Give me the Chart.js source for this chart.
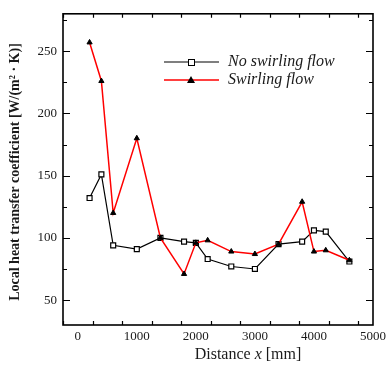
<!DOCTYPE html>
<html>
<head>
<meta charset="utf-8">
<script src="https://cdn.jsdelivr.net/npm/chart.js@4/dist/chart.umd.min.js"></script>
<style>
  html, body { margin: 0; padding: 0; background: #fff; }
  #wrap { width: 390px; height: 368px; }
</style>
</head>
<body>
<div id="wrap"><canvas id="chart"></canvas></div>
<script>
// distance along the pipe [mm]
const distance = [200, 400, 600, 1000, 1400, 1800, 2000, 2200, 2600, 3000, 3400, 3800, 4000, 4200, 4600]
const noSwirl = [132, 151, 94, 91, 100, 97, 96, 83, 77, 75, 95, 97, 106, 105, 81]
const swirl = [257, 226, 120, 180, 100, 71, 96, 98, 89, 87, 95, 129, 89, 90, 82]

const xTickValues = [0, 1000, 2000, 3000, 4000, 5000]
const yTickValues = [50, 100, 150, 200, 250]
const xMinorStep = 500
const yMinorStep = 25

const serif = '"Liberation Serif", "DejaVu Serif", serif'

function toPoints(xs, ys) {
    return xs.map((x, i) => ({ x: x, y: ys[i] }))
}

// frame, inward ticks, legend and axis titles
const decorations = {
    id: 'decorations',
    afterDraw(chart) {
        const { ctx, chartArea, scales } = chart
        const { left, right, top, bottom } = chartArea
        const xs = scales.x, ys = scales.y
        ctx.save()
        ctx.strokeStyle = '#000'
        ctx.lineWidth = 1.2

        // ticks
        ctx.beginPath()
        for (let v = xs.min; v <= xs.max + 1; v += xMinorStep) {
            const px = Math.round(xs.getPixelForValue(v)) + 0.5
            const len = (v % 1000 === 0) ? 6 : 4
            ctx.moveTo(px, bottom); ctx.lineTo(px, bottom - len)
            ctx.moveTo(px, top); ctx.lineTo(px, top + len)
        }
        for (let v = 50; v <= ys.max; v += yMinorStep) {
            const py = Math.round(ys.getPixelForValue(v)) + 0.5
            const len = (v % 50 === 0) ? 7 : 4
            ctx.moveTo(left, py); ctx.lineTo(left + len, py)
            ctx.moveTo(right, py); ctx.lineTo(right - len, py)
        }
        ctx.stroke()

        // frame
        ctx.lineWidth = 1.6
        ctx.strokeRect(left, top, right - left, bottom - top)

        // legend
        const items = chart.data.datasets
        items.forEach((ds, i) => {
            const y = 62 + i * 18
            ctx.strokeStyle = ds.borderColor
            ctx.lineWidth = ds.borderWidth
            ctx.beginPath()
            ctx.moveTo(164, y); ctx.lineTo(219, y)
            ctx.stroke()
            ctx.lineWidth = 1
            ctx.strokeStyle = '#000'
            ctx.fillStyle = ds.pointBackgroundColor
            if (ds.pointStyle === 'rect') {
                ctx.fillRect(188, y - 3, 6, 6)
                ctx.strokeRect(188.5, y - 2.5, 6, 6)
            } else {
                ctx.fillStyle = '#000'
                ctx.beginPath()
                ctx.moveTo(191, y - 4); ctx.lineTo(195, y + 3); ctx.lineTo(187, y + 3)
                ctx.closePath(); ctx.fill()
            }
            ctx.fillStyle = '#1a1a1a'
            ctx.font = 'italic 16px ' + serif
            ctx.textBaseline = 'middle'
            ctx.textAlign = 'left'
            ctx.fillText(ds.label, 228, y)
        })

        // x title with italic x
        ctx.fillStyle = '#1a1a1a'
        ctx.textBaseline = 'middle'
        const p1 = 'Distance ', p2 = 'x', p3 = ' [mm]'
        const fN = '16px ' + serif, fI = 'italic 16px ' + serif
        ctx.font = fN; const w1 = ctx.measureText(p1).width, w3 = ctx.measureText(p3).width
        ctx.font = fI; const w2 = ctx.measureText(p2).width
        let tx = 248 - (w1 + w2 + w3) / 2
        ctx.textAlign = 'left'
        ctx.font = fN; ctx.fillText(p1, tx, 355); tx += w1
        ctx.font = fI; ctx.fillText(p2, tx, 355); tx += w2
        ctx.font = fN; ctx.fillText(p3, tx, 355)

        // y title
        ctx.save()
        ctx.translate(15, 172)
        ctx.rotate(-Math.PI / 2)
        ctx.textAlign = 'center'
        ctx.font = 'bold 14px ' + serif
        ctx.fillText('Local heat transfer coefficient [W/(m² · K)]', 0, 0)
        ctx.restore()

        ctx.restore()
    }
}

new Chart(document.getElementById('chart'), {
    type: 'line',
    data: {
        datasets: [
            {
                label: 'No swirling flow',
                data: toPoints(distance, noSwirl),
                borderColor: '#000',
                borderWidth: 1.2,
                pointStyle: 'rect',
                pointRadius: 3.5,
                pointBackgroundColor: '#fff',
                pointBorderColor: '#000',
                pointBorderWidth: 1.2,
                tension: 0,
                order: 2
            },
            {
                label: 'Swirling flow',
                data: toPoints(distance, swirl),
                borderColor: '#ff0000',
                borderWidth: 1.5,
                pointStyle: 'triangle',
                pointRadius: 3,
                pointBackgroundColor: '#000',
                pointBorderColor: '#000',
                pointBorderWidth: 1,
                tension: 0,
                order: 1
            }
        ]
    },
    options: {
        responsive: true,
        maintainAspectRatio: false,
        animation: false,
        layout: { padding: { top: 13, right: 12, left: 0, bottom: 0 } },
        scales: {
            x: {
                type: 'linear',
                min: -250,
                max: 5000,
                afterBuildTicks: scale => { scale.ticks = xTickValues.map(v => ({ value: v })) },
                afterFit: scale => { scale.height = 43 },
                grid: { display: false, drawTicks: false },
                border: { display: false },
                ticks: {
                    padding: 4,
                    color: '#1a1a1a',
                    font: { family: serif, size: 13 },
                    callback: v => String(v)
                }
            },
            y: {
                type: 'linear',
                min: 30,
                max: 280,
                afterBuildTicks: scale => { scale.ticks = yTickValues.map(v => ({ value: v })) },
                afterFit: scale => { scale.width = 63 },
                grid: { display: false, drawTicks: false },
                border: { display: false },
                ticks: {
                    padding: 6,
                    color: '#1a1a1a',
                    font: { family: serif, size: 13 },
                    callback: v => String(v)
                }
            }
        },
        plugins: {
            legend: { display: false },
            tooltip: { enabled: false }
        }
    },
    plugins: [decorations]
})
</script>
</body>
</html>
